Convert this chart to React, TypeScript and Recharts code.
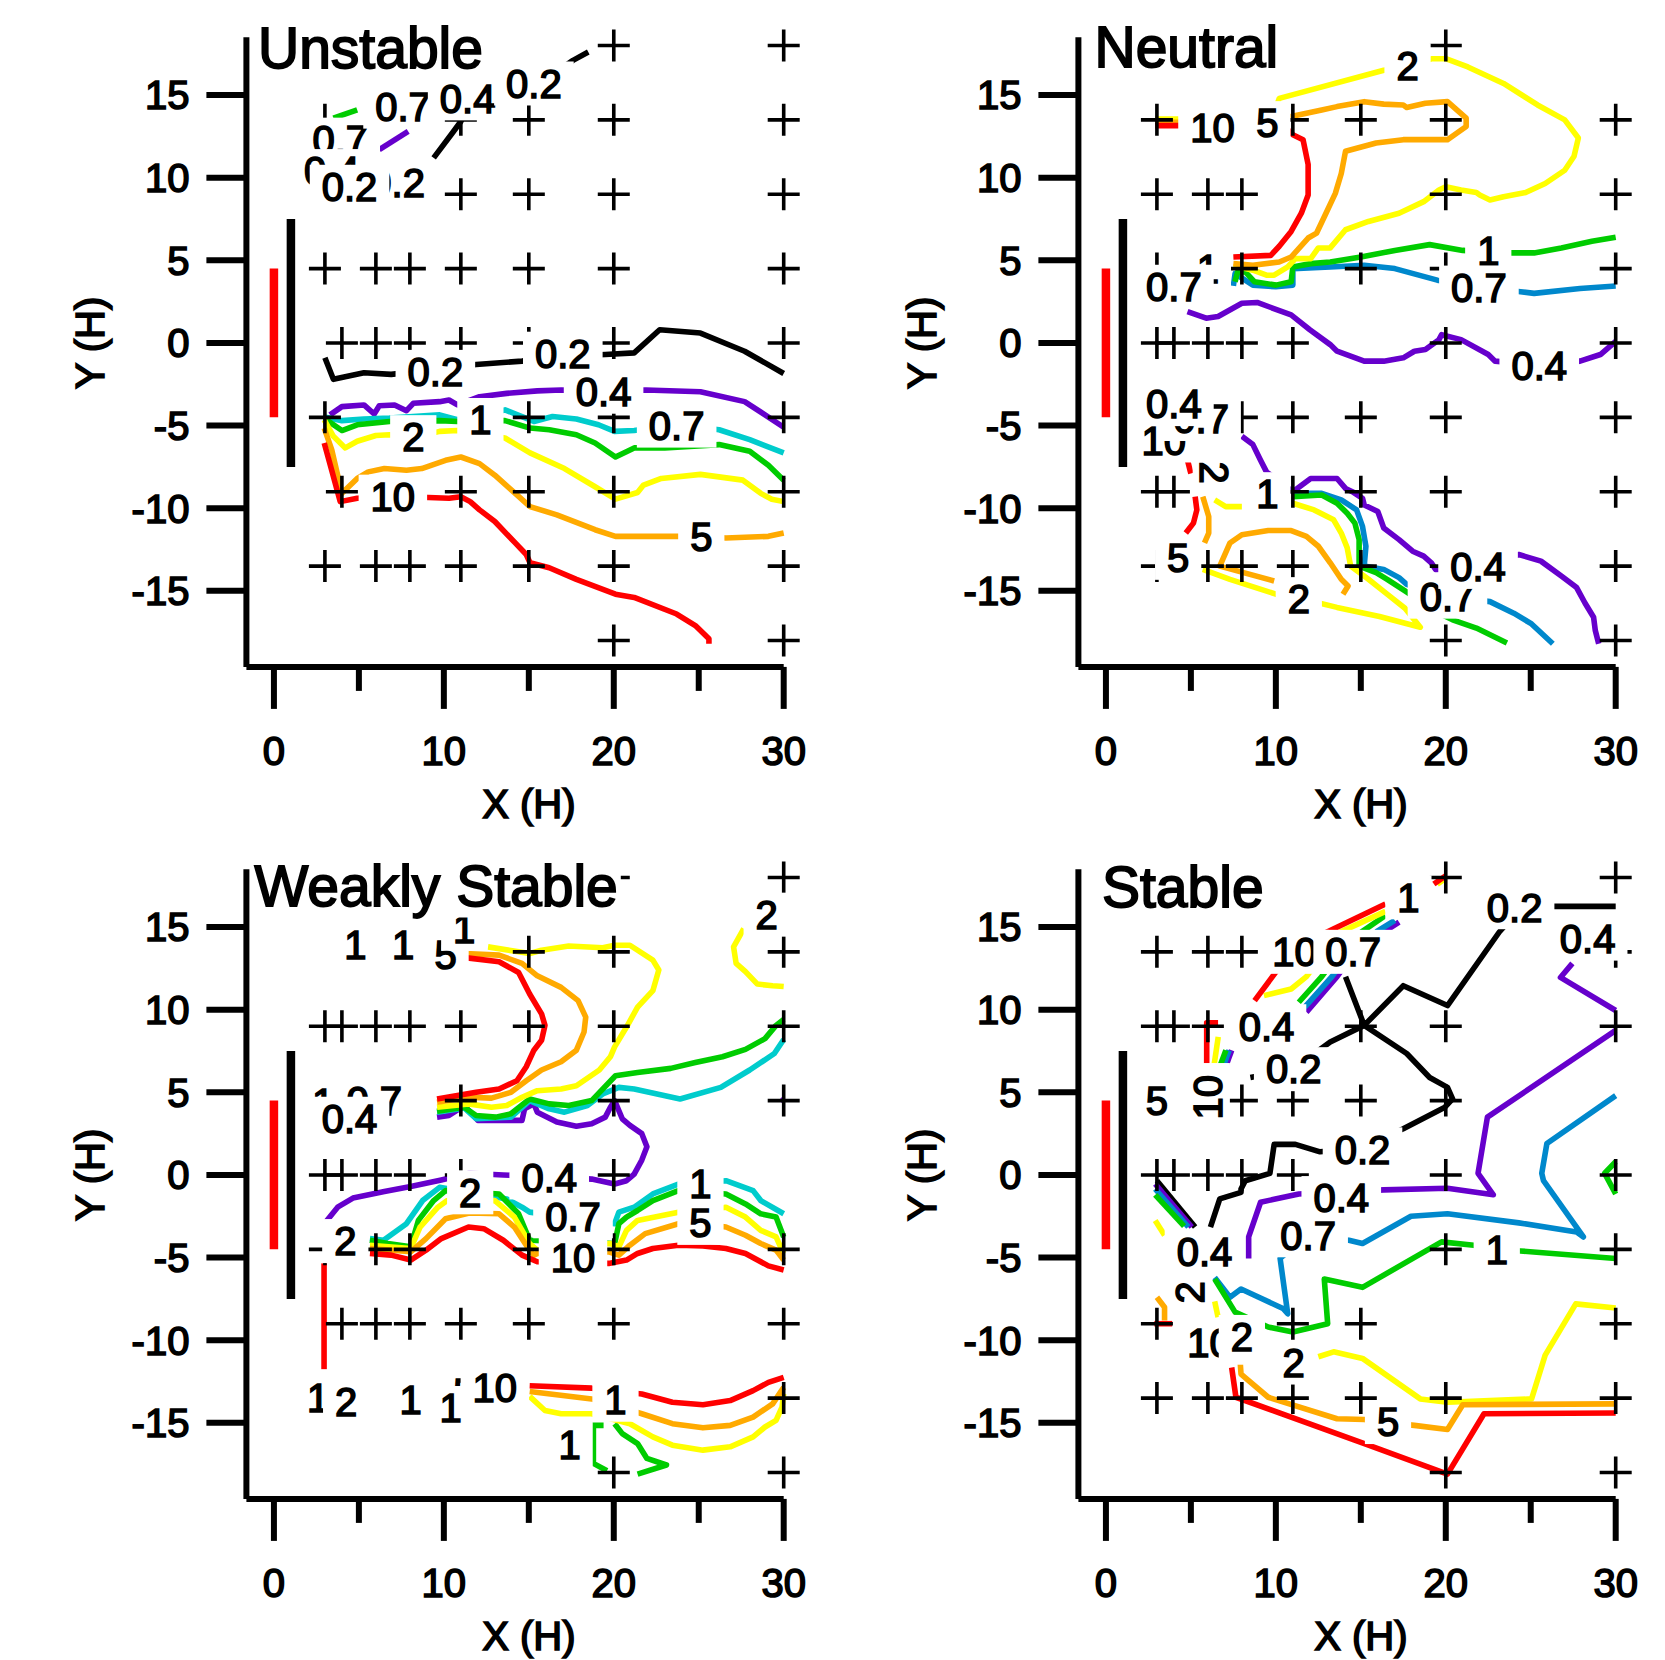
import React from "react";
import { ComposedChart, Scatter, Line, XAxis, YAxis, ReferenceLine } from "recharts";

type Pt = [number, number];
type Row = [number, number[]];
type Lbl = [string, number, number, number?];
type Lines = [string, Pt[]][];

const FONT = "'Liberation Sans', Arial, Helvetica, sans-serif";
const X_MIN = -1.62;
const X_MAX = 30;
const Y_MIN = -19.6;
const Y_MAX = 18.5;
const X_TICKS = [0, 5, 10, 15, 20, 25, 30];
const Y_TICKS = [-15, -10, -5, 0, 5, 10, 15];

const RED_BAR: Pt[] = [[0, -4.5], [0, 4.5]];
const BLACK_BAR: Pt[] = [[1, -7.5], [1, 7.5]];

const LEVEL_COLORS: Record<string, string> = {
  "10": "#ff0000",
  "5": "#ffaa00",
  "2": "#ffff00",
  "1": "#00cc00",
  "0.4": "#6600cc",
  "0.2": "#000000",
};

// ---------- Unstable ----------
const U_CROSS: Row[] = [
  [18, [20, 30]],
  [13.5, [3, 11, 15, 20, 30]],
  [9, [11, 15, 20, 30]],
  [4.5, [3, 6, 8, 11, 15, 20, 30]],
  [0, [4, 6, 8, 11, 15, 20, 30]],
  [-4.5, [3, 15, 20, 30]],
  [-9, [4, 11, 15, 20, 30]],
  [-13.5, [3, 6, 8, 11, 15, 20, 30]],
  [-18, [20, 30]],
];
const U_02A: Pt[] = [[3.0, -0.9], [3.5, -2.2], [5.3, -1.8], [6.9, -1.9], [9.5, -1.6], [11.9, -1.3], [14.6, -1.1], [17.0, -0.8], [19.5, -0.7], [21.2, -0.6], [22.7, 0.8], [25.1, 0.6], [27.7, -0.5], [30, -1.85]];
const U_02B: Pt[] = [[9.4, 11.2], [10.5, 12.7], [11.0, 13.4], [11.6, 14.5], [13.4, 15.4], [15.3, 15.9], [16.9, 16.6], [17.6, 17.1], [18.5, 17.6]];
const U_04A: Pt[] = [[3.3, -4.35], [4.0, -3.85], [5.3, -3.75], [5.9, -4.3], [6.2, -3.8], [7.1, -3.75], [7.8, -4.1], [8.2, -3.65], [9.75, -3.55], [10.3, -3.45], [10.8, -3.75], [12.1, -3.25], [13.7, -3.05], [15.5, -2.9], [16.9, -2.85], [19.4, -2.9], [21.9, -2.85], [25.1, -2.95], [27.7, -3.55], [28.9, -4.35], [30, -5.1]];
const U_04B: Pt[] = [[6.2, 11.7], [7.9, 12.8]];
const U_07A: Pt[] = [[3.05, -4.5], [4.0, -4.7], [5.3, -4.6], [6.8, -4.55], [9.75, -4.35], [10.8, -4.65], [13.6, -4.05], [15.3, -4.75], [16.4, -4.45], [17.8, -4.6], [19.1, -4.95], [20.05, -5.35], [21.2, -5.3], [23.7, -4.95], [26.2, -5.25], [28.0, -5.85], [30, -6.65]];
const U_1A: Pt[] = [[2.96, -4.56], [4.0, -5.3], [4.9, -4.95], [6.8, -4.75], [9.75, -4.7], [10.8, -4.75], [12.2, -4.7], [13.6, -4.7], [15.07, -5.15], [16.2, -5.25], [17.8, -5.55], [18.9, -6.05], [20.1, -6.9], [21.2, -6.35], [23.0, -6.35], [26.2, -6.15], [28.0, -6.55], [29.1, -7.4], [30, -8.3]];
const U_1B: Pt[] = [[3.5, 13.6], [4.9, 14.1]];
const U_2A: Pt[] = [[2.96, -4.66], [3.5, -5.65], [4.2, -6.35], [4.9, -5.95], [6.0, -5.6], [6.8, -5.55], [8.2, -5.75], [9.75, -5.35], [10.8, -5.3], [13.6, -5.75], [15.07, -6.65], [17.1, -7.6], [18.9, -8.7], [20.1, -9.45], [21.4, -9.05], [21.75, -8.6], [22.8, -8.2], [25.1, -7.95], [27.6, -8.3], [28.65, -9.1], [29.3, -9.45], [30, -9.6]];
const U_5A: Pt[] = [[2.96, -5.15], [3.4, -6.45], [4.0, -9.1], [4.9, -8.2], [5.55, -7.8], [6.5, -7.6], [7.8, -7.7], [8.7, -7.6], [10.1, -7.1], [11.0, -6.9], [12.1, -7.3], [13.0, -8.0], [14.2, -9.1], [15.07, -9.9], [16.65, -10.4], [18.9, -11.3], [20.1, -11.7], [22.3, -11.7], [25.1, -11.7], [26.6, -11.8], [29.1, -11.7], [30, -11.5]];
const U_10A: Pt[] = [[2.96, -6.05], [3.4, -7.7], [3.9, -9.6], [4.9, -9.4], [7.0, -9.3], [9.1, -9.35], [10.3, -9.4], [11.0, -9.3], [11.55, -9.6], [12.1, -10.1], [13.0, -10.8], [14.2, -12.1], [14.85, -12.8], [15.07, -13.3], [16.2, -13.6], [17.8, -14.3], [20.1, -15.2], [21.2, -15.4], [23.7, -16.4], [24.8, -17.1], [25.6, -17.9], [25.6, -18.2]];
const U_LINES: Lines = [
  ["0.2", U_02A], ["0.2", U_02B], ["0.4", U_04A], ["0.4", U_04B], ["0.7", U_07A],
  ["1", U_1A], ["1", U_1B], ["2", U_2A], ["5", U_5A], ["10", U_10A],
];
const U_LABELS: Lbl[] = [
  ["0.7", 3.9, 12.3], ["0.4", 3.4, 10.4], ["0.2", 7.25, 9.7], ["0.2", 4.45, 9.45],
  ["0.7", 7.6, 14.3], ["0.4", 11.4, 14.8], ["0.2", 15.3, 15.7],
  ["0.2", 9.5, -1.75], ["0.2", 17.0, -0.65], ["0.4", 19.4, -2.95], ["1", 12.15, -4.66],
  ["0.7", 23.7, -5.0], ["2", 8.2, -5.7], ["10", 7.0, -9.3], ["5", 25.15, -11.75],
];

// ---------- Neutral ----------
const N_CROSS: Row[] = [
  [18, [20]],
  [13.5, [3, 11, 15, 20, 30]],
  [9, [3, 6, 8, 20, 30]],
  [4.5, [3, 6, 8, 15, 20, 30]],
  [0, [3, 4, 6, 8, 11, 20, 30]],
  [-4.5, [8, 11, 15, 20, 30]],
  [-9, [3, 4, 11, 15, 20, 30]],
  [-13.5, [3, 6, 8, 11, 15, 20, 30]],
  [-18, [20, 30]],
];
const N_10A: Pt[] = [[2.9, 13.15], [4.5, 13.15], [8.5, 13.1], [10.6, 13.0], [11.0, 12.6], [11.6, 12.3], [11.9, 10.8], [11.9, 8.95], [11.5, 7.85], [10.9, 6.75], [10.2, 5.85], [9.7, 5.3], [7.5, 5.2]];
const N_5A: Pt[] = [[2.9, 13.35], [4.5, 13.35], [8.5, 13.4], [10.5, 13.5], [10.9, 13.7], [12.7, 14.1], [13.6, 14.3], [15.2, 14.6], [16.35, 14.45], [17.5, 14.4], [17.7, 14.25], [18.8, 14.5], [20.1, 14.6], [21.2, 13.6], [21.2, 13.1], [20.1, 12.3], [18.8, 12.3], [17.5, 12.3], [15.9, 12.1], [14.1, 11.6], [13.85, 10.25], [13.5, 9.05], [12.95, 7.85], [12.4, 6.65], [11.9, 6.35], [10.9, 5.2], [10.2, 4.9], [8.65, 4.7], [7.5, 4.8]];
const N_2A: Pt[] = [[2.9, 13.55], [4.5, 13.55], [8.5, 13.7], [10.0, 14.2], [10.2, 14.8], [16.35, 16.5], [17.7, 16.7], [19.2, 17.2], [20.0, 17.2], [21.3, 16.7], [23.4, 15.7], [25.4, 14.4], [27.0, 13.5], [27.8, 12.4], [27.55, 11.3], [27.0, 10.45], [25.85, 9.65], [24.7, 9.1], [23.4, 8.85], [22.6, 8.65], [22.0, 8.95], [21.8, 9.1], [20.9, 9.25], [20.0, 9.45], [19.6, 9.25], [18.7, 8.55], [17.25, 7.85], [15.45, 7.35], [14.1, 6.85], [13.2, 5.75], [12.5, 5.75], [12.05, 5.1], [11.15, 5.1], [10.7, 4.6], [9.9, 4.1], [9.45, 4.1], [8.65, 4.4], [7.85, 4.6], [7.5, 4.6]];
const N_1A: Pt[] = [[7.6, 3.7], [7.75, 4.3], [8.2, 4.3], [8.75, 3.7], [10.0, 3.5], [10.9, 3.7], [11.0, 4.6], [12.05, 4.8], [13.2, 4.9], [15.0, 5.2], [17.0, 5.6], [19.05, 5.95], [21.0, 5.6], [22.5, 5.5], [23.9, 5.45], [25.2, 5.45], [26.8, 5.75], [28.6, 6.15], [30, 6.4]];
const N_07A: Pt[] = [[7.5, 3.45], [7.6, 4.2], [8.65, 3.5], [10.0, 3.4], [11.0, 3.5], [11.0, 4.5], [13.2, 4.6], [15.2, 4.7], [17.0, 4.5], [19.5, 3.8], [21.9, 3.4], [24.4, 3.1], [25.2, 3.0], [27.9, 3.3], [30, 3.45]];
const N_04A: Pt[] = [[4.8, 1.9], [5.9, 1.5], [6.6, 1.6], [8.0, 2.4], [8.9, 2.45], [10.9, 1.7], [12.0, 0.8], [13.2, -0.1], [13.6, -0.5], [15.2, -1.1], [16.35, -1.1], [17.5, -0.9], [18.15, -0.5], [18.8, -0.4], [19.6, 0.2], [19.75, 0.5], [20.9, 0.2], [22.5, -0.7], [22.9, -1.1], [25.5, -1.35], [27.9, -1.1], [29.1, -0.7], [30, 0.1]];
const N_04B: Pt[] = [[8.0, -5.65], [8.65, -6.15], [9.1, -7.1], [9.45, -7.8], [10.5, -8.6], [11.0, -9.0], [12.05, -8.2], [13.6, -8.2], [14.1, -8.8], [14.5, -9.0], [15.1, -9.4], [15.2, -9.8], [16.0, -10.2], [16.35, -11.2], [17.25, -11.9], [18.05, -12.6], [18.7, -12.9], [19.15, -13.3], [19.4, -13.7], [21.9, -13.6], [24.3, -12.8], [25.6, -13.2], [26.8, -14.1], [27.7, -14.8], [28.2, -15.75], [28.7, -16.6], [28.8, -17.4], [29.0, -18.2]];
const N_07B: Pt[] = [[11.0, -9.1], [12.7, -9.1], [13.85, -9.5], [14.75, -10.1], [15.1, -11.1], [15.3, -12.3], [15.2, -13.5], [16.35, -13.7], [17.25, -14.2], [17.7, -14.6], [19.7, -15.3], [22.6, -15.65], [24.0, -16.35], [25.05, -17.0], [26.3, -18.2]];
const N_1B: Pt[] = [[11.0, -9.3], [12.7, -9.2], [13.6, -9.7], [14.2, -10.3], [14.65, -10.9], [14.9, -11.9], [14.9, -13.5], [15.9, -13.9], [16.55, -14.3], [17.6, -15.0], [19.5, -16.3], [20.4, -16.75], [21.8, -17.25], [23.6, -18.15]];
const N_2B: Pt[] = [[11.0, -9.7], [12.25, -10.1], [13.4, -10.7], [13.85, -11.5], [14.2, -12.4], [14.4, -13.5], [15.45, -14.3], [16.55, -15.2], [17.6, -16.05], [18.5, -17.2], [16.1, -16.55], [13.6, -16.0], [11.4, -15.45], [10.0, -15.2], [7.3, -14.3], [5.7, -13.7]];
const N_2C: Pt[] = [[6.4, -9.5], [7.05, -9.9], [8.0, -9.9]];
const N_5B: Pt[] = [[9.9, -14.4], [6.7, -13.5], [7.3, -12.1], [8.0, -11.6], [9.55, -11.35], [10.9, -11.35], [11.8, -11.7], [12.5, -12.3], [13.2, -13.3], [13.85, -14.3], [14.25, -14.7], [13.95, -15.2]];
const N_5C: Pt[] = [[5.7, -9.3], [6.05, -10.5], [6.05, -11.5], [5.8, -12.1]];
const N_10B: Pt[] = [[5.25, -9.3], [5.35, -10.1], [5.15, -10.9], [4.7, -11.5]];
const N_10C: Pt[] = [[4.8, -7.1], [5.0, -7.9]];
const N_LINES: Lines = [
  ["0.4", N_04A], ["0.4", N_04B], ["0.7", N_07A], ["0.7", N_07B], ["1", N_1A], ["1", N_1B],
  ["2", N_2A], ["2", N_2B], ["2", N_2C], ["5", N_5A], ["5", N_5B], ["5", N_5C],
  ["10", N_10A], ["10", N_10B], ["10", N_10C],
];
const N_LABELS: Lbl[] = [
  ["10", 6.27, 13.05], ["5", 9.5, 13.3], ["2", 17.75, 16.8],
  ["1", 6.0, 4.5], ["0.7", 4.0, 3.4], ["1", 22.5, 5.6], ["0.7", 21.95, 3.35], ["0.4", 25.5, -1.35],
  ["10", 3.4, -5.9], ["0.7", 5.6, -4.6], ["0.4", 4.0, -3.7], ["2", 6.4, -7.85, 90], ["1", 9.5, -9.15],
  ["5", 4.25, -13.0], ["2", 11.35, -15.5], ["0.7", 20.1, -15.35], ["0.4", 21.9, -13.55],
];

// ---------- Weakly Stable ----------
const W_CROSS: Row[] = [
  [18, [20, 30]],
  [13.5, [15, 20, 30]],
  [9, [3, 4, 6, 8, 11, 15, 20, 30]],
  [4.5, [11, 20, 30]],
  [0, [3, 4, 6, 8, 11, 20]],
  [-4.5, [3, 6, 8, 15, 20, 30]],
  [-9, [4, 6, 8, 11, 15, 20, 30]],
  [-13.5, [30]],
  [-18, [20, 30]],
];
const W_10A: Pt[] = [[9.6, 4.6], [11.9, 5.0], [13.25, 5.2], [14.3, 5.7], [14.85, 6.55], [15.3, 7.55], [15.75, 8.15], [15.95, 9.05], [15.75, 9.75], [15.05, 10.95], [14.4, 12.25], [13.25, 12.9], [11.25, 13.15]];
const W_5A: Pt[] = [[9.6, 4.4], [11.45, 4.7], [12.8, 4.65], [13.95, 5.0], [14.85, 5.7], [15.75, 6.35], [16.9, 6.85], [17.8, 7.55], [18.25, 8.65], [18.35, 9.55], [17.9, 10.55], [16.9, 11.35], [15.5, 12.05], [14.6, 12.8], [13.25, 13.3], [11.25, 13.4]];
const W_2A: Pt[] = [[9.6, 4.1], [11.45, 4.3], [12.8, 4.1], [13.7, 4.2], [14.6, 4.7], [15.5, 5.1], [16.9, 5.2], [17.8, 5.4], [19.15, 6.35], [19.8, 7.15], [20.05, 7.75], [20.75, 8.95], [21.4, 10.15], [22.3, 11.15], [22.65, 12.4], [22.3, 13.0], [20.95, 13.9], [20.05, 13.9], [19.35, 13.75], [17.35, 13.85], [15.75, 13.6], [15.05, 13.4], [12.6, 13.8]];
const W_1A: Pt[] = [[9.6, 3.85], [11.2, 4.1], [11.9, 3.6], [13.05, 3.5], [13.95, 3.7], [15.05, 4.6], [16.2, 4.3], [17.35, 4.2], [18.7, 4.5], [20.1, 6.0], [21.4, 6.2], [23.35, 6.45], [24.8, 6.8], [26.4, 7.15], [27.75, 7.6], [28.9, 8.25], [29.55, 9.05], [30, 9.4]];
const W_07A: Pt[] = [[9.6, 3.8], [11.2, 4.05], [11.9, 3.4], [13.95, 3.5], [15.05, 4.5], [16.2, 4.0], [17.1, 3.8], [18.45, 4.2], [19.35, 4.9], [20.3, 5.3], [21.2, 5.2], [23.9, 4.6], [26.3, 5.3], [28.0, 6.35], [29.45, 7.35], [30, 8.2]];
const W_04A: Pt[] = [[3.0, -2.9], [3.75, -1.95], [4.65, -1.4], [6.5, -1.0], [8.05, -0.7], [9.85, -0.3], [11.5, 0.1], [13.5, 0.0], [16.2, -0.1], [18.7, -0.25], [20.05, -0.55], [20.75, -0.35], [21.2, 0.05], [21.65, 0.9], [21.95, 1.7], [21.65, 2.5], [20.95, 3.0], [20.5, 3.4], [20.05, 4.5], [19.8, 4.1], [19.5, 3.5], [18.7, 3.1], [17.8, 2.95], [16.65, 3.2], [15.5, 3.8], [15.3, 4.3], [14.75, 4.0], [14.6, 3.3], [12.0, 3.3], [11.2, 4.2], [10.3, 3.6], [9.6, 3.5]];
const W_04B: Pt[] = [[29.85, 4.4], [30, 4.6]];
const W_10B: Pt[] = [[5.65, -4.75], [6.9, -4.85], [8.05, -5.15], [8.95, -4.55], [9.85, -3.85], [11.45, -3.15], [12.35, -3.25], [13.5, -3.95], [14.6, -4.85], [15.5, -5.25], [19.7, -5.35], [20.75, -5.15], [21.4, -4.75], [22.3, -4.45], [23.8, -4.25], [25.25, -4.3], [26.6, -4.45], [27.75, -4.75], [29.1, -5.5], [30, -5.75]];
const W_5B: Pt[] = [[5.65, -4.45], [8.05, -4.65], [8.95, -3.85], [10.1, -2.65], [11.5, -2.3], [13.25, -2.35], [14.15, -3.15], [14.85, -4.25], [15.3, -4.85], [15.5, -4.75], [19.7, -4.65], [20.3, -4.85], [20.95, -4.25], [21.85, -3.55], [23.8, -2.95], [25.15, -2.95], [26.6, -3.15], [27.75, -3.65], [28.65, -4.15], [29.55, -4.55], [30, -5.15]];
const W_2B: Pt[] = [[5.65, -4.25], [8.05, -4.45], [8.6, -3.15], [9.65, -1.95], [10.2, -1.55], [13.0, -1.55], [14.15, -2.55], [15.05, -4.15], [15.5, -4.55], [19.8, -4.15], [20.3, -4.35], [20.75, -3.35], [21.4, -2.75], [23.8, -2.25], [26.6, -1.95], [27.75, -2.55], [28.65, -3.35], [29.55, -3.75], [29.9, -4.55], [30, -4.75]];
const W_1B: Pt[] = [[5.65, -3.95], [6.7, -4.15], [8.05, -4.35], [8.5, -2.75], [9.4, -1.55], [10.1, -0.95], [13.25, -1.15], [14.4, -2.35], [15.05, -3.95], [20.05, -4.15], [20.3, -2.95], [20.75, -2.55], [21.4, -2.15], [22.3, -1.55], [23.8, -0.95], [26.6, -1.15], [27.75, -1.75], [28.65, -2.35], [29.55, -2.55], [30, -3.75]];
const W_07B: Pt[] = [[5.65, -3.85], [6.45, -3.95], [7.8, -2.95], [8.75, -1.55], [9.75, -0.75], [13.7, -1.45], [14.6, -1.95], [15.05, -2.25], [20.05, -2.95], [20.3, -2.25], [21.2, -1.95], [22.3, -1.15], [23.8, -0.55], [26.6, -0.35], [28.2, -0.95], [28.65, -1.55], [30, -2.35]];
const W_10D: Pt[] = [[2.95, -5.35], [2.95, -11.75]];
const W_10E: Pt[] = [[15.05, -12.75], [18.7, -12.9], [21.65, -13.25], [23.45, -13.75], [25.25, -13.9], [26.85, -13.65], [28.2, -13.05], [29.1, -12.55], [30, -12.25]];
const W_5E: Pt[] = [[15.05, -13.1], [18.7, -13.55], [21.65, -14.45], [23.45, -15.05], [25.25, -15.3], [26.85, -15.15], [28.2, -14.65], [29.35, -13.85], [30, -12.85]];
const W_2E: Pt[] = [[15.05, -13.4], [15.95, -14.25], [16.9, -14.45], [18.7, -14.45], [20.95, -15.05], [22.3, -15.85], [23.45, -16.35], [25.25, -16.65], [26.85, -16.45], [28.2, -15.85], [28.9, -15.25], [29.55, -14.85], [29.9, -14.05], [30, -13.25]];
const W_2F: Pt[] = [[27.65, 14.9], [27.05, 13.8], [27.2, 12.8], [27.75, 12.3], [28.45, 11.55], [29.35, 11.45], [30, 11.4]];
const W_1E: Pt[] = [[20.05, -15.05], [20.5, -15.65], [21.4, -16.25], [21.95, -17.15], [23.1, -17.55], [21.4, -18.1]];
const W_1F: Pt[] = [[19.4, -15.15], [18.8, -15.15], [18.8, -17.45], [19.6, -17.9]];
const W_LINES: Lines = [
  ["0.4", W_04A], ["0.4", W_04B], ["0.7", W_07A], ["0.7", W_07B], ["1", W_1A], ["1", W_1B], ["1", W_1E], ["1", W_1F],
  ["2", W_2A], ["2", W_2B], ["2", W_2E], ["2", W_2F], ["5", W_5A], ["5", W_5B], ["5", W_5E],
  ["10", W_10A], ["10", W_10B], ["10", W_10D], ["10", W_10E],
];
const W_LABELS: Lbl[] = [
  ["1", 4.8, 13.95], ["1", 7.6, 13.95], ["5", 10.1, 13.3], ["1", 11.2, 14.9], ["2", 29.0, 15.75],
  ["1", 2.9, 4.4], ["0.7", 5.9, 4.5], ["0.4", 4.45, 3.4],
  ["1", 25.1, -0.5], ["0.4", 16.2, -0.15], ["2", 11.55, -1.05], ["0.7", 17.6, -2.5], ["5", 25.1, -2.9],
  ["10", 17.6, -5.0], ["2", 4.2, -4.0],
  ["1", 2.6, -13.45], ["2", 4.25, -13.7], ["1", 8.05, -13.6], ["5", 11.2, -13.2], ["10", 13.0, -12.85],
  ["1", 10.4, -14.1], ["1", 20.1, -13.6], ["1", 17.4, -16.3],
];

// ---------- Stable ----------
const S_CROSS: Row[] = [
  [18, [20, 30]],
  [13.5, [3, 6, 8, 30]],
  [9, [3, 4, 6, 15, 20, 30]],
  [4.5, [8, 11, 15, 20]],
  [0, [3, 4, 6, 8, 11, 20, 30]],
  [-4.5, [20, 30]],
  [-9, [3, 11, 15, 30]],
  [-13.5, [3, 6, 8, 11, 15, 20, 30]],
  [-18, [20, 30]],
];
const S_02A: Pt[] = [[14.1, 12.0], [15.2, 9.05], [17.5, 11.45], [20.1, 10.25], [23.15, 14.7], [24.5, 16.25], [30, 16.25]];
const S_02B: Pt[] = [[8.5, 5.9], [11.0, 6.4], [13.2, 8.05], [15.2, 9.05], [17.7, 7.35], [19.05, 5.9], [20.1, 5.3], [20.4, 4.6], [19.95, 4.1], [17.5, 2.8], [15.0, 1.6], [12.6, 1.4], [11.15, 1.85], [9.9, 1.85], [9.65, 0.1], [8.2, -0.35], [7.95, -0.85], [7.95, -1.05], [6.7, -1.45], [6.15, -3.15]];
const S_02C: Pt[] = [[3.0, -0.35], [5.25, -3.15]];
const S_04A: Pt[] = [[8.4, -5.05], [8.4, -3.75], [9.1, -1.65], [11.35, -1.15], [16.35, -0.9], [20.1, -0.8], [22.8, -1.2], [21.9, 0.1], [22.45, 3.5], [30, 8.75]];
const S_04B: Pt[] = [[27.45, 12.8], [26.75, 11.95], [30, 9.95]];
const S_04C: Pt[] = [[2.9, -0.55], [5.05, -3.15]];
const S_07A: Pt[] = [[6.4, -6.2], [7.3, -7.4], [7.95, -6.9], [10.45, -8.1], [10.7, -8.4], [10.25, -5.05], [11.8, -3.7], [14.3, -3.95], [15.1, -4.15], [17.95, -2.5], [20.1, -2.35], [24.3, -2.9], [27.7, -3.45], [28.1, -3.75], [25.75, -0.35], [25.65, 0.1], [25.95, 1.9], [30, 4.8]];
const S_07C: Pt[] = [[2.9, -0.85], [4.85, -3.15]];
const S_1A: Pt[] = [[6.4, -6.3], [7.6, -8.3], [9.55, -9.2], [11.0, -9.5], [13.05, -9.0], [12.85, -6.3], [15.1, -6.8], [19.75, -4.05], [21.65, -4.25], [23.0, -4.55], [24.4, -4.6], [30, -5.05]];
const S_1B: Pt[] = [[30, 0.8], [29.35, 0.1], [30, -1.15]];
const S_1C: Pt[] = [[2.9, -1.2], [4.6, -3.1]];
const S_2A: Pt[] = [[12.5, -11.0], [13.4, -10.7], [15.1, -11.1], [18.5, -13.55], [20.1, -13.75], [25.05, -13.55], [25.85, -10.9], [27.65, -7.8], [30, -8.05]];
const S_2B: Pt[] = [[6.4, -7.65], [6.6, -8.6]];
const S_2C: Pt[] = [[2.9, -2.75], [3.45, -3.65]];
const S_5A: Pt[] = [[7.9, -11.3], [7.95, -12.05], [9.55, -13.45], [13.6, -14.75], [15.2, -14.8], [16.7, -15.0], [18.15, -15.15], [20.1, -15.4], [21.0, -13.9], [30, -13.85]];
const S_5B: Pt[] = [[3.0, -7.4], [3.45, -8.0], [3.45, -8.8]];
const S_10A: Pt[] = [[7.4, -11.65], [7.65, -13.45], [15.45, -16.35], [20.1, -18.1], [22.25, -14.45], [30, -14.4]];
const S_10B: Pt[] = [[2.85, -9.0], [3.9, -9.0]];
// short colour bundles where the contours crowd together
const S_B1: Lines = [["0.4", [[16.2, 14.6], [17.25, 15.3]]], ["0.7", [[15.9, 14.7], [17.0, 15.4]]], ["1", [[14.9, 14.6], [16.45, 15.7]]], ["2", [[13.6, 14.6], [16.45, 15.95]]], ["10", [[12.8, 14.6], [16.45, 16.4]]]];
const S_B2: Lines = [["0.4", [[11.8, 9.85], [13.6, 12.0], [14.1, 12.7]]], ["0.7", [[11.7, 10.15], [13.3, 12.0], [13.8, 12.7]]], ["1", [[11.35, 10.45], [12.7, 12.0], [13.2, 12.7]]], ["2", [[9.3, 10.85], [10.9, 11.25], [11.8, 12.0], [12.3, 12.7]]], ["10", [[8.75, 10.55], [9.8, 12.0], [10.3, 12.7]]]];
const S_B3: Lines = [["0.4", [[6.85, 6.0], [7.4, 7.55]]], ["0.7", [[6.7, 6.0], [7.25, 7.55]]], ["1", [[6.5, 6.0], [7.06, 7.55]]], ["2", [[6.27, 6.0], [6.61, 8.35]]], ["10", [[6.6, 9.2], [5.93, 9.2], [5.93, 6.0]]]];
const S_B4: Lines = [["2", [[19.5, 17.6], [20.0, 17.95]]], ["10", [[19.3, 17.6], [20.0, 18.1]]]];
const S_LINES: Lines = [
  ["0.2", S_02A], ["0.2", S_02B], ["0.2", S_02C], ["0.4", S_04A], ["0.4", S_04B], ["0.4", S_04C],
  ["0.7", S_07A], ["0.7", S_07C], ["1", S_1A], ["1", S_1B], ["1", S_1C], ["2", S_2A], ["2", S_2B], ["2", S_2C],
  ["5", S_5A], ["5", S_5B], ["10", S_10A], ["10", S_10B],
  ...S_B1, ...S_B2, ...S_B3, ...S_B4,
];
const S_LABELS: Lbl[] = [
  ["1", 17.8, 16.8], ["0.2", 24.05, 16.2], ["0.4", 28.35, 14.3], ["10", 11.1, 13.5], ["0.7", 14.55, 13.5],
  ["0.4", 9.45, 9.0], ["0.2", 11.05, 6.4], ["5", 3.0, 4.5], ["10", 6.0, 4.7, -90], ["0.2", 15.1, 1.55],
  ["0.4", 13.85, -1.4], ["0.7", 11.9, -3.65], ["0.4", 5.8, -4.65], ["2", 4.95, -7.1, -90],
  ["10", 6.1, -10.15], ["2", 8.0, -9.8], ["2", 11.05, -11.35], ["5", 16.6, -14.95], ["1", 23.0, -4.5],
];

// ---------- drawing ----------
const W = 830;
const H = 828.5;
const PLOT_BOTTOM = 666.9;
const MARGIN = { top: 37.2, right: 46.3, bottom: H - PLOT_BOTTOM - 60, left: 186.4 };
const FS = 40;
const TXT = { fontSize: FS, fontFamily: FONT, fill: "#000", stroke: "#000", strokeWidth: 1.6 };

const CHAR_W: Record<string, number> = {
  ".": 0.278, " ": 0.278, U: 0.722, N: 0.722, W: 0.944, S: 0.667, n: 0.556, s: 0.5, t: 0.278,
  a: 0.556, b: 0.556, l: 0.222, e: 0.556, u: 0.556, r: 0.333, k: 0.5, y: 0.5,
};
const textW = (t: string, size: number) =>
  t.split("").reduce((s, c) => s + (CHAR_W[c] ?? 0.556), 0) * size;

const renderCross = (p: any) => {
  const { cx, cy } = p;
  return (
    <path
      d={`M${cx - 16},${cy}H${cx + 16}M${cx},${cy - 16}V${cy + 16}`}
      stroke="#000"
      strokeWidth={3.6}
      fill="none"
    />
  );
};

const renderLabel = (p: any) => {
  const { cx, cy, payload } = p;
  const w = textW(payload.t, FS) + 24;
  const h = 44;
  return (
    <g transform={`rotate(${payload.r || 0} ${cx} ${cy})`}>
      <rect x={cx - w / 2} y={cy - h / 2} width={w} height={h} fill="#fff" />
      <text x={cx} y={cy + 14.3} textAnchor="middle" {...TXT}>
        {payload.t}
      </text>
    </g>
  );
};

const XTick = (p: any) => {
  const { x, y, payload } = p;
  const v = payload.value;
  const major = v % 10 === 0;
  return (
    <g>
      <line x1={x} x2={x} y1={y} y2={y + (major ? 42 : 24)} stroke="#000" strokeWidth={6} />
      {major && (
        <text x={x} y={y + 98} textAnchor="middle" {...TXT}>
          {v}
        </text>
      )}
    </g>
  );
};

const YTick = (p: any) => {
  const { x, y, payload } = p;
  return (
    <g>
      <line x1={x - 40} x2={x + 2} y1={y} y2={y} stroke="#000" strokeWidth={6} />
      <text x={x - 57} y={y + 14.3} textAnchor="end" {...TXT}>
        {payload.value}
      </text>
    </g>
  );
};

const XLabel = (p: any) => {
  const vb = p.viewBox;
  const cx = vb.x + ((15 - X_MIN) / (X_MAX - X_MIN)) * vb.width;
  return (
    <text x={cx} y={vb.y + 151} textAnchor="middle" {...TXT}>
      X (H)
    </text>
  );
};

const YLabel = (p: any) => {
  const vb = p.viewBox;
  const cx = vb.x + vb.width - 156.4;
  const cy = vb.y + (Y_MAX / (Y_MAX - Y_MIN)) * vb.height;
  return (
    <text x={cx} y={cy + 14.3} transform={`rotate(-90 ${cx} ${cy})`} textAnchor="middle" {...TXT}>
      Y (H)
    </text>
  );
};

type PanelProps = {
  left: number;
  top: number;
  title: string;
  titleX: number;
  titleBase: number;
  crosses: Row[];
  lines: Lines;
  labels: Lbl[];
  c07: string;
};

function Panel({ left, top, title, titleX, titleBase, crosses, lines, labels, c07 }: PanelProps) {
  const crossData = crosses.flatMap(([y, xs]) => xs.map((x) => ({ x, y })));
  const labelData = labels.map(([t, x, y, r]) => ({ x, y, t, r }));
  const tw = textW(title, 57);
  return (
    <div style={{ position: "absolute", left, top, width: W, height: H }}>
      <ComposedChart width={W} height={H} margin={MARGIN}>
        <XAxis
          type="number"
          dataKey="x"
          domain={[X_MIN, X_MAX]}
          ticks={X_TICKS}
          interval={0}
          height={60}
          tickSize={0}
          tickMargin={0}
          tickLine={false}
          tick={XTick}
          axisLine={{ stroke: "#000", strokeWidth: 6 }}
          label={XLabel}
        />
        <YAxis
          type="number"
          dataKey="y"
          domain={[Y_MIN, Y_MAX]}
          ticks={Y_TICKS}
          interval={0}
          width={60}
          tickSize={0}
          tickMargin={0}
          tickLine={false}
          tick={YTick}
          axisLine={{ stroke: "#000", strokeWidth: 6 }}
          label={YLabel}
        />
        <Scatter data={crossData} dataKey="y" shape={renderCross} isAnimationActive={false} />
        {lines.map(([lvl, pts], i) => (
          <Line
            key={i}
            data={pts.map(([x, y]) => ({ x, y }))}
            dataKey="y"
            type="linear"
            stroke={lvl === "0.7" ? c07 : LEVEL_COLORS[lvl]}
            strokeWidth={5.6}
            strokeLinejoin="round"
            dot={false}
            activeDot={false}
            isAnimationActive={false}
          />
        ))}
        <ReferenceLine segment={RED_BAR.map(([x, y]) => ({ x, y }))} stroke="#ff0000" strokeWidth={8.5} />
        <ReferenceLine segment={BLACK_BAR.map(([x, y]) => ({ x, y }))} stroke="#000" strokeWidth={8.5} />
        <Scatter data={labelData} dataKey="y" shape={renderLabel} isAnimationActive={false} />
      </ComposedChart>
      <svg width={W} height={H} style={{ position: "absolute", left: 0, top: 0, pointerEvents: "none" }}>
        <rect x={titleX - 2} y={titleBase - 46} width={tw + 4} height={58} fill="#fff" />
        <text x={titleX} y={titleBase} fontSize={57} fontFamily={FONT} fill="#000" stroke="#000" strokeWidth={1.8}>
          {title}
        </text>
      </svg>
    </div>
  );
}

export default function App() {
  return (
    <div style={{ position: "absolute", left: 0, top: 0, width: 1665, height: 1660, background: "#fff" }}>
      <Panel left={0} top={0} title="Unstable" titleX={258} titleBase={68} crosses={U_CROSS} lines={U_LINES} labels={U_LABELS} c07="#00cccc" />
      <Panel left={831.5} top={0} title="Neutral" titleX={262.5} titleBase={67} crosses={N_CROSS} lines={N_LINES} labels={N_LABELS} c07="#0088cc" />
      <Panel left={0} top={831.5} title="Weakly Stable" titleX={254.5} titleBase={73.5} crosses={W_CROSS} lines={W_LINES} labels={W_LABELS} c07="#00cccc" />
      <Panel left={831.5} top={831.5} title="Stable" titleX={270} titleBase={74.5} crosses={S_CROSS} lines={S_LINES} labels={S_LABELS} c07="#0088cc" />
    </div>
  );
}
